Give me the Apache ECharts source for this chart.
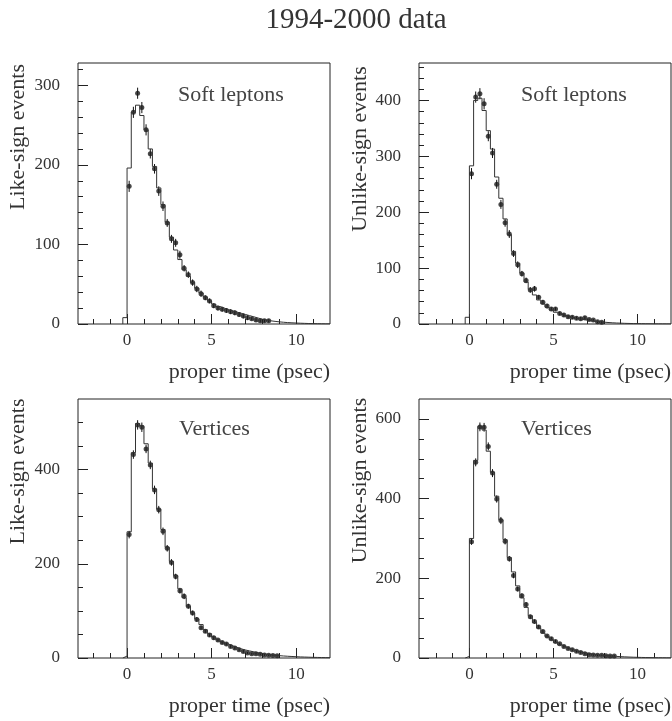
<!DOCTYPE html>
<html><head><meta charset="utf-8">
<script src="https://cdn.jsdelivr.net/npm/echarts@6/dist/echarts.min.js"></script>
<style>html,body{margin:0;padding:0;background:#fff}#c{width:672px;height:721px}</style>
</head><body><div id="c"></div>
<script>
// ---------------- data ----------------
const binWidth = 0.25;      // psec
const firstEdge = -0.25;    // first histogram bin starts here

const titleText = '1994-2000 data';
const xAxisTitle = 'proper time (psec)';
const xTickLabels = [0, 5, 10];
const xTickMinor = [-2, -1, 1, 2, 3, 4, 6, 7, 8, 9, 11];

// Panel 1: like-sign, soft leptons
const hist1 = [8, 196, 266, 275, 262, 244, 220, 198, 171, 150, 128, 109, 93, 81, 68, 60, 52, 45, 39, 34, 29, 25, 22, 20, 18, 16.5, 15, 13.5, 12, 10.5, 9, 7.5, 6, 5, 4, 3.3, 2.7, 2.2, 1.8, 1.5, 1.2, 1, 0.8, 0.6, 0.5, 0.4, 0.3, 0.2, 0.2];
const pts1 = [173, 266, 290, 272, 244, 214, 195, 167, 148, 127, 107, 102, 87, 70, 62, 52, 44, 38, 33, 29, 23, 20, 18.5, 17, 15.5, 14, 12, 10, 8, 6.5, 5, 4, 4, 4];
const err1 = [7, 7, 7, 7, 7, 6, 6, 6, 6, 5, 5, 5, 5, 4, 4, 4, 4, 4, 3, 3, 3, 3, 3, 3, 3, 3, 3, 3, 3, 2, 2, 2, 2, 2];
const yMajor1 = [0, 100, 200, 300];
const yMinor1 = [20, 40, 60, 80, 120, 140, 160, 180, 220, 240, 260, 280, 320];

// Panel 2: unlike-sign, soft leptons
const hist2 = [12, 283, 400, 404, 382, 346, 313, 263, 225, 188, 160, 130, 109, 91, 75, 62, 52, 43, 36, 30, 25, 21, 17.5, 15, 13, 11, 9.5, 8, 7, 6, 5, 4, 3.3, 2.7, 2.2, 1.8, 1.5, 1.2, 1, 0.8, 0.7, 0.6, 0.5, 0.4, 0.3, 0.3, 0.2, 0.2, 0.1];
const pts2 = [269, 406, 412, 394, 336, 306, 250, 214, 181, 161, 126, 106, 90, 78, 61, 63, 48, 39, 32, 27, 27, 19, 16, 13, 12, 10.5, 9.5, 11, 8, 7, 4, 3];
const err2 = [10, 10, 10, 10, 9, 9, 8, 8, 7, 7, 6, 6, 5, 5, 5, 5, 4, 4, 4, 3, 3, 3, 3, 3, 3, 3, 3, 3, 2, 2, 2, 2];
const yMajor2 = [0, 100, 200, 300, 400];
const yMinor2 = [20, 40, 60, 80, 120, 140, 160, 180, 220, 240, 260, 280, 320, 340, 360, 380, 420, 440, 460];

// Panel 3: like-sign, vertices
const hist3 = [4, 268, 436, 498, 493, 455, 414, 359, 316, 273, 235, 205, 175, 147, 128, 110, 95.5, 83, 71, 60, 51.5, 44.5, 39, 34, 29.7, 26, 22.5, 19.5, 17, 15, 13, 11, 9.5, 8, 7, 6, 5, 4.3, 3.7, 3.2, 2.7, 2.3, 2, 1.7, 1.4, 1.2, 1, 0.8, 0.7];
const pts3 = [262, 432, 495, 490, 444, 410, 357, 315, 269, 233, 203, 173, 143, 131, 110, 95.5, 82, 64.5, 57, 49, 43, 38, 33, 29.7, 24.6, 21, 17.6, 14, 10.6, 9, 9, 8, 6.6, 6, 5.5, 5];
const err3 = [8, 9, 10, 10, 9, 9, 9, 8, 8, 7, 7, 6, 6, 6, 5, 5, 5, 4, 4, 4, 4, 3, 3, 3, 3, 3, 3, 3, 2, 2, 2, 2, 2, 2, 2, 2];
const yMajor3 = [0, 200, 400];
const yMinor3 = [50, 100, 150, 250, 300, 350, 450, 500];

// Panel 4: unlike-sign, vertices
const hist4 = [4, 300, 496, 581, 572, 519, 466, 406, 347, 297, 252, 216, 181, 151, 127, 106, 89, 75, 62.5, 54, 46, 39, 33, 28, 24, 20, 17, 14.5, 12.5, 10.5, 9, 7.5, 6.5, 5.5, 4.7, 4, 3.4, 2.9, 2.4, 2, 1.7, 1.4, 1.2, 1, 0.8, 0.7, 0.6, 0.5, 0.4];
const pts4 = [292, 491, 580, 579, 531, 464, 399, 345, 293, 249, 207, 173, 156, 134, 103.5, 91.5, 78, 66.5, 55, 48.5, 41.5, 35.5, 29, 24, 20.8, 16.7, 14, 10.8, 8.3, 7.5, 6.7, 6.7, 5.8, 5, 5];
const err4 = [8, 10, 11, 11, 10, 10, 9, 9, 8, 7, 7, 6, 6, 6, 5, 5, 5, 4, 4, 4, 4, 3, 3, 3, 3, 3, 3, 3, 2, 2, 2, 2, 2, 2, 2];
const yMajor4 = [0, 200, 400, 600];
const yMinor4 = [50, 100, 150, 250, 300, 350, 450, 500, 550];

// ---------------- layout ----------------
const FONT = "'Liberation Serif', 'DejaVu Serif', 'Times New Roman', serif";
const TXT = '#333';
const LINE = '#222';

const panels = [
  { hist: hist1, pts: pts1, err: err1, yMajor: yMajor1, yMinor: yMinor1, ymax: 328,
    grid: { left: 78, top: 63, width: 252, height: 261 }, xmin: -2.9, xmax: 12,
    ylabel: 'Like-sign events', ylabelPos: [18.5, 137], tag: 'Soft leptons', tagPos: [178, 95],
    xtitlePos: [330, 372] },
  { hist: hist2, pts: pts2, err: err2, yMajor: yMajor2, yMinor: yMinor2, ymax: 467,
    grid: { left: 419, top: 63, width: 252, height: 261 }, xmin: -3, xmax: 12,
    ylabel: 'Unlike-sign events', ylabelPos: [360.5, 149], tag: 'Soft leptons', tagPos: [521, 95.5],
    xtitlePos: [671, 372] },
  { hist: hist3, pts: pts3, err: err3, yMajor: yMajor3, yMinor: yMinor3, ymax: 550,
    grid: { left: 78, top: 399, width: 252, height: 259 }, xmin: -2.9, xmax: 12,
    ylabel: 'Like-sign events', ylabelPos: [18.5, 471.5], tag: 'Vertices', tagPos: [179, 429.5],
    xtitlePos: [330, 706] },
  { hist: hist4, pts: pts4, err: err4, yMajor: yMajor4, yMinor: yMinor4, ymax: 650,
    grid: { left: 419, top: 399, width: 252, height: 259 }, xmin: -3, xmax: 12,
    ylabel: 'Unlike-sign events', ylabelPos: [360.5, 480.5], tag: 'Vertices', tagPos: [521, 429.5],
    xtitlePos: [671, 706] }
];

const grids = [], xAxes = [], yAxes = [], series = [], graphics = [];

function txt(x, y, text, size, align, color, rot) {
  const g = { type: 'text', x: x, y: y, silent: true,
    style: { text: text, fontSize: size, fontFamily: FONT, fill: color, textAlign: align, textVerticalAlign: 'middle' } };
  if (rot) g.rotation = rot;
  return g;
}

graphics.push(txt(356, 20, titleText, 29, 'center', TXT));

panels.forEach((p, k) => {
  grids.push(Object.assign({ show: true, borderColor: LINE, borderWidth: 1, backgroundColor: 'transparent', containLabel: false }, p.grid));
  const lbl = { fontFamily: FONT, fontSize: 17, color: TXT };
  const noLine = { show: false, onZero: false };
  xAxes.push({ gridIndex: k, type: 'value', min: p.xmin, max: p.xmax, position: 'bottom',
    axisLine: noLine, splitLine: { show: false },
    axisTick: { show: true, inside: true, length: 10, customValues: xTickLabels, lineStyle: { color: LINE } },
    axisLabel: Object.assign({ customValues: xTickLabels, margin: 8 }, lbl) });
  xAxes.push({ gridIndex: k, type: 'value', min: p.xmin, max: p.xmax, position: 'bottom',
    axisLine: noLine, splitLine: { show: false }, axisLabel: { show: false },
    axisTick: { show: true, inside: true, length: 5, customValues: xTickMinor, lineStyle: { color: LINE } } });
  yAxes.push({ gridIndex: k, type: 'value', min: 0, max: p.ymax, position: 'left',
    axisLine: noLine, splitLine: { show: false },
    axisTick: { show: true, inside: true, length: 10, customValues: p.yMajor, lineStyle: { color: LINE } },
    axisLabel: Object.assign({ customValues: p.yMajor, margin: 18 }, lbl) });
  yAxes.push({ gridIndex: k, type: 'value', min: 0, max: p.ymax, position: 'left',
    axisLine: noLine, splitLine: { show: false }, axisLabel: { show: false },
    axisTick: { show: true, inside: true, length: 5, customValues: p.yMinor, lineStyle: { color: LINE } } });

  // histogram step line built from bin edges
  const line = [[firstEdge, 0]];
  p.hist.forEach((v, i) => {
    const lo = firstEdge + i * binWidth;
    line.push([lo, v], [lo + binWidth, v]);
  });
  series.push({ type: 'line', xAxisIndex: 2 * k, yAxisIndex: 2 * k, data: line, showSymbol: false,
    lineStyle: { color: '#333', width: 1 }, animation: false, silent: true, clip: true });

  // data points at bin centres (bins starting at 0)
  const centres = p.pts.map((v, i) => [(i + 0.5) * binWidth, v, p.err[i]]);
  series.push({ type: 'custom', xAxisIndex: 2 * k, yAxisIndex: 2 * k, data: centres, animation: false, silent: true,
    renderItem: (params, api) => {
      const x = api.value(0), y = api.value(1), e = api.value(2);
      const a = api.coord([x, y - e]), b = api.coord([x, y + e]);
      return { type: 'line', shape: { x1: a[0], y1: a[1], x2: b[0], y2: b[1] }, style: { stroke: '#111', lineWidth: 1 } };
    } });
  series.push({ type: 'scatter', xAxisIndex: 2 * k, yAxisIndex: 2 * k, data: centres.map(c => [c[0], c[1]]),
    symbol: 'circle', symbolSize: 5, itemStyle: { color: '#1a1a1a' }, animation: false, silent: true });

  graphics.push(txt(p.ylabelPos[0], p.ylabelPos[1], p.ylabel, 22, 'center', TXT, Math.PI / 2));
  graphics.push(txt(p.tagPos[0], p.tagPos[1], p.tag, 22, 'left', '#444'));
  graphics.push(txt(p.xtitlePos[0], p.xtitlePos[1], xAxisTitle, 22, 'right', TXT));
});

const chart = echarts.init(document.getElementById('c'), null, { renderer: 'canvas' });
chart.setOption({ backgroundColor: '#fff', animation: false, grid: grids, xAxis: xAxes, yAxis: yAxes, series: series, graphic: graphics });
</script></body></html>
